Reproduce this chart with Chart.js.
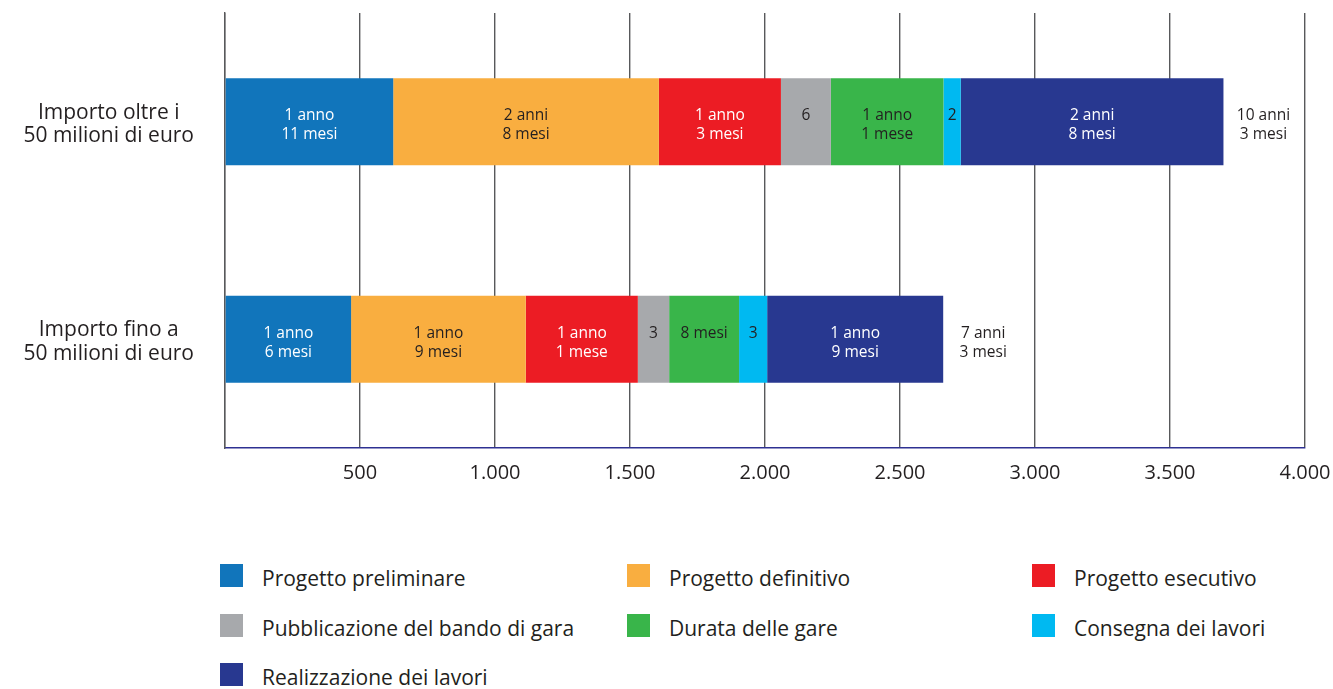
<!DOCTYPE html>
<html lang="it">
<head>
<meta charset="utf-8">
<title>Durata media delle fasi di realizzazione delle opere</title>
<script src="https://cdn.jsdelivr.net/npm/chart.js@4/dist/chart.umd.min.js"></script>
<style>
  html, body { margin: 0; padding: 0; background: #ffffff; }
  body { width: 1333px; height: 689px; position: relative; overflow: hidden;
         font-family: "Open Sans", "Noto Sans", sans-serif; color: #231f20; }
  #wrap { position: absolute; left: 0; top: 0; width: 1333px; height: 500px; }
  .lg-box { position: absolute; width: 23px; height: 23px; }
  .lg-txt { position: absolute; font-size: 21px; line-height: 21px; white-space: nowrap; color: #231f20; }
</style>
</head>
<body>
<div id="wrap"><canvas id="chart"></canvas></div>
<div id="legend"></div>
<script>
// Categorie (righe del grafico)
const categories = [
  ['Importo oltre i', '50 milioni di euro'],
  ['Importo fino a', '50 milioni di euro']
];

// Fasi
const phases = [
  'Progetto preliminare',
  'Progetto definitivo',
  'Progetto esecutivo',
  'Pubblicazione del bando di gara',
  'Durata delle gare',
  'Consegna dei lavori',
  'Realizzazione dei lavori'
];
const phaseColors = ['#1175bb', '#f9ae40', '#ec1c24', '#a7a9ac', '#39b54a', '#00b9f1', '#283890'];
const phaseTextColors = ['#ffffff', '#231f20', '#ffffff', '#231f20', '#231f20', '#231f20', '#ffffff'];

// Durata di ciascuna fase (giorni), per categoria
const oltre50 = [623, 984, 452, 185, 417, 64, 973];
const fino50  = [467, 647, 415, 116, 259, 104, 652];

// Etichette delle durate dentro le barre
const oltre50Labels = [
  ['1 anno', '11 mesi'], ['2 anni', '8 mesi'], ['1 anno', '3 mesi'], ['6'],
  ['1 anno', '1 mese'], ['2'], ['2 anni', '8 mesi']
];
const fino50Labels = [
  ['1 anno', '6 mesi'], ['1 anno', '9 mesi'], ['1 anno', '1 mese'], ['3'],
  ['8 mesi'], ['3'], ['1 anno', '9 mesi']
];

// Durata complessiva a fine barra
const totalLabels = [['10 anni', '3 mesi'], ['7 anni', '3 mesi']];

// Asse x
const xMin = 0, xMax = 4000, xStep = 500;

const FONT = '"Open Sans", "Noto Sans", sans-serif';
const TEXT = '#231f20';

const datasets = phases.map((name, i) => ({
  label: name,
  data: [oltre50[i], fino50[i]],
  backgroundColor: phaseColors[i],
  borderWidth: 0,
  barPercentage: 0.4,
  categoryPercentage: 1.0
}));
const segmentLabels = [oltre50Labels, fino50Labels];

function fmtThousands(v) {
  return String(v).replace(/\B(?=(\d{3})+(?!\d))/g, '.');
}

// Scritte dentro i segmenti e totale a destra di ogni barra
const barText = {
  id: 'barText',
  afterDatasetsDraw(chart) {
    const ctx = chart.ctx;
    ctx.save();
    ctx.font = '15.5px ' + FONT;
    ctx.textAlign = 'center';
    ctx.textBaseline = 'alphabetic';
    const lineGap = 19.3;
    chart.data.datasets.forEach((ds, di) => {
      const meta = chart.getDatasetMeta(di);
      meta.data.forEach((bar, ci) => {
        const lines = segmentLabels[ci][di];
        const cx = (bar.x + bar.base) / 2;
        const y0 = bar.y - 1.6;
        ctx.fillStyle = phaseTextColors[di];
        lines.forEach((t, k) => ctx.fillText(t, cx, y0 + k * lineGap));
      });
    });
    const last = chart.getDatasetMeta(chart.data.datasets.length - 1);
    last.data.forEach((bar, ci) => {
      const cx = bar.x + 40;
      const y0 = bar.y - 1.6;
      ctx.fillStyle = TEXT;
      totalLabels[ci].forEach((t, k) => ctx.fillText(t, cx, y0 + k * lineGap));
    });
    ctx.restore();
  }
};

new Chart(document.getElementById('chart'), {
  type: 'bar',
  data: { labels: categories, datasets },
  options: {
    indexAxis: 'y',
    responsive: true,
    maintainAspectRatio: false,
    animation: false,
    layout: { padding: { top: 13, right: 28, bottom: 12, left: 0 } },
    plugins: { legend: { display: false }, tooltip: { enabled: false } },
    scales: {
      x: {
        stacked: true,
        min: xMin, max: xMax,
        afterFit(scale) {
          scale.height = 40;
          scale.paddingLeft = 0;
          scale.paddingRight = 0;
        },
        ticks: {
          stepSize: xStep,
          padding: 13,
          color: TEXT,
          font: { family: FONT, size: 20 },
          maxRotation: 0,
          callback: (v) => (v === 0 ? '' : fmtThousands(v))
        },
        grid: { color: '#58595b', lineWidth: 1.4, drawTicks: false },
        border: { display: true, color: '#2e3192', width: 1.5 }
      },
      y: {
        stacked: true,
        afterFit(scale) {
          scale.width = 225;
          scale.paddingTop = 0;
          scale.paddingBottom = 0;
        },
        ticks: {
          crossAlign: 'center',
          padding: 31,
          labelOffset: 3,
          color: TEXT,
          font: { family: FONT, size: 21, lineHeight: 1.12 }
        },
        grid: { display: false, drawTicks: false },
        border: { display: true, color: '#58595b', width: 1.4 }
      }
    }
  },
  plugins: [barText]
});

// Legenda su tre colonne
const legend = document.getElementById('legend');
const colX = [220, 627, 1032];
const rowY = [564, 613.5, 663];
phases.forEach((name, i) => {
  const c = i % 3, r = Math.floor(i / 3);
  const box = document.createElement('div');
  box.className = 'lg-box';
  box.style.left = colX[c] + 'px';
  box.style.top = rowY[r] + 'px';
  box.style.background = phaseColors[i];
  legend.appendChild(box);
  const txt = document.createElement('div');
  txt.className = 'lg-txt';
  txt.style.left = (colX[c] + 42) + 'px';
  txt.style.top = (rowY[r] + 4) + 'px';
  txt.textContent = name;
  legend.appendChild(txt);
});
</script>
</body>
</html>
